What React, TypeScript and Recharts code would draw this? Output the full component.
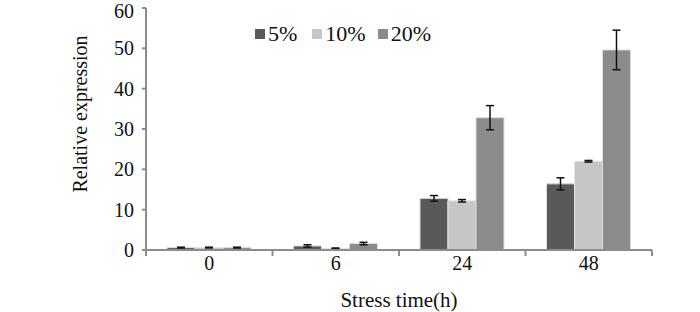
import React from 'react';
import { BarChart, Bar, XAxis, YAxis, Legend, ErrorBar } from 'recharts';

const categories = ['0', '6', '24', '48'];
const s5 = [0.6, 1.0, 12.8, 16.4];
const s5err = [0.1, 0.3, 0.7, 1.5];
const s10 = [0.6, 0.4, 12.2, 22.0];
const s10err = [0.1, 0.1, 0.3, 0.2];
const s20 = [0.6, 1.6, 32.8, 49.6];
const s20err = [0.1, 0.3, 3.0, 4.9];
const yTicks = [0, 10, 20, 30, 40, 50, 60];

const seriesNames = ['5%', '10%', '20%'];
const colors = ['#595959', '#c6c6c6', '#8b8b8b'];

const data = categories.map((c, i) => ({
  cat: c,
  a: s5[i], ae: s5err[i],
  b: s10[i], be: s10err[i],
  c: s20[i], ce: s20err[i],
}));

const FONT = '"Liberation Serif", "Times New Roman", serif';
const AXIS = '#8c8c8c';

const XTick = (props: any) => {
  const { x, y, payload, index, width, visibleTicksCount } = props;
  const n = visibleTicksCount || categories.length;
  const band = width / n;
  const last = index === n - 1;
  return (
    <g>
      <line x1={x - band / 2} x2={x - band / 2} y1={y} y2={y + 6} stroke={AXIS} strokeWidth={2} />
      {last && <line x1={x + band / 2} x2={x + band / 2} y1={y} y2={y + 6} stroke={AXIS} strokeWidth={2} />}
      <text x={x} y={y + 20} textAnchor="middle" style={{ fontFamily: FONT, fontSize: 20 }} fill="#111">
        {payload.value}
      </text>
    </g>
  );
};

const YTick = (props: any) => {
  const { x, y, payload, index } = props;
  const dy = index === yTicks.length - 1 ? 10 : 7;
  return (
    <text x={x} y={y} dy={dy} textAnchor="end" style={{ fontFamily: FONT, fontSize: 20 }} fill="#111">
      {payload.value}
    </text>
  );
};

const YLabel = (props: any) => {
  const vb = props.viewBox || {};
  const cx = (vb.x || 0) + 80;
  const cy = (vb.y || 0) + (vb.height || 0) / 2 - 15;
  return (
    <text x={cx} y={cy} transform={`rotate(-90 ${cx} ${cy})`} textAnchor="middle" dominantBaseline="central" style={{ fontFamily: FONT, fontSize: 20 }} fill="#111">
      Relative expression
    </text>
  );
};

const gaps = [15, 12, 0];
const LegendContent = () => (
  <div style={{ display: 'flex', alignItems: 'center', fontFamily: FONT, fontSize: 22, color: '#111', lineHeight: '24px' }}>
    {seriesNames.map((n, i) => (
      <div key={n} style={{ display: 'flex', alignItems: 'center', marginRight: gaps[i] }}>
        <span style={{ display: 'inline-block', width: 10, height: 10, background: colors[i], marginRight: 3 }} />
        <span>{n}</span>
      </div>
    ))}
  </div>
);

export default function App() {
  return (
    <div style={{ position: 'absolute', left: 0, top: 0, width: 700, height: 312, background: '#fff' }}>
      <BarChart
        width={700}
        height={312}
        data={data}
        margin={{ top: 8, right: 48, left: 0, bottom: 0 }}
        barCategoryGap="16.6%"
        barGap={0}
      >
        <XAxis
          dataKey="cat"
          axisLine={{ stroke: AXIS, strokeWidth: 2 }}
          tickLine={false}
          tickSize={0}
          tickMargin={0}
          tick={<XTick />}
          interval={0}
          height={62}
          label={{ value: 'Stress time(h)', position: 'insideBottom', offset: 5, style: { fontFamily: FONT, fontSize: 21 }, fill: '#111' }}
        />
        <YAxis
          domain={[0, 60]}
          ticks={yTicks}
          interval={0}
          width={146}
          axisLine={{ stroke: AXIS, strokeWidth: 2 }}
          tickLine={{ stroke: AXIS, strokeWidth: 2 }}
          tickSize={4}
          tickMargin={8}
          tick={<YTick />}
          label={<YLabel />}
        />
        <Legend verticalAlign="middle" align="center" layout="horizontal" content={<LegendContent />} wrapperStyle={{ position: 'absolute', top: 22, left: 255, width: 'auto', height: 24 }} />
        <Bar dataKey="a" name="5%" fill={colors[0]} stroke="#dcdcdc" strokeWidth={1} isAnimationActive={false}>
          <ErrorBar dataKey="ae" width={4} stroke="#111" strokeWidth={1.5} />
        </Bar>
        <Bar dataKey="b" name="10%" fill={colors[1]} stroke="#e6e6e6" strokeWidth={1} isAnimationActive={false}>
          <ErrorBar dataKey="be" width={4} stroke="#111" strokeWidth={1.5} />
        </Bar>
        <Bar dataKey="c" name="20%" fill={colors[2]} stroke="#dcdcdc" strokeWidth={1} isAnimationActive={false}>
          <ErrorBar dataKey="ce" width={4} stroke="#111" strokeWidth={1.5} />
        </Bar>
      </BarChart>
    </div>
  );
}
